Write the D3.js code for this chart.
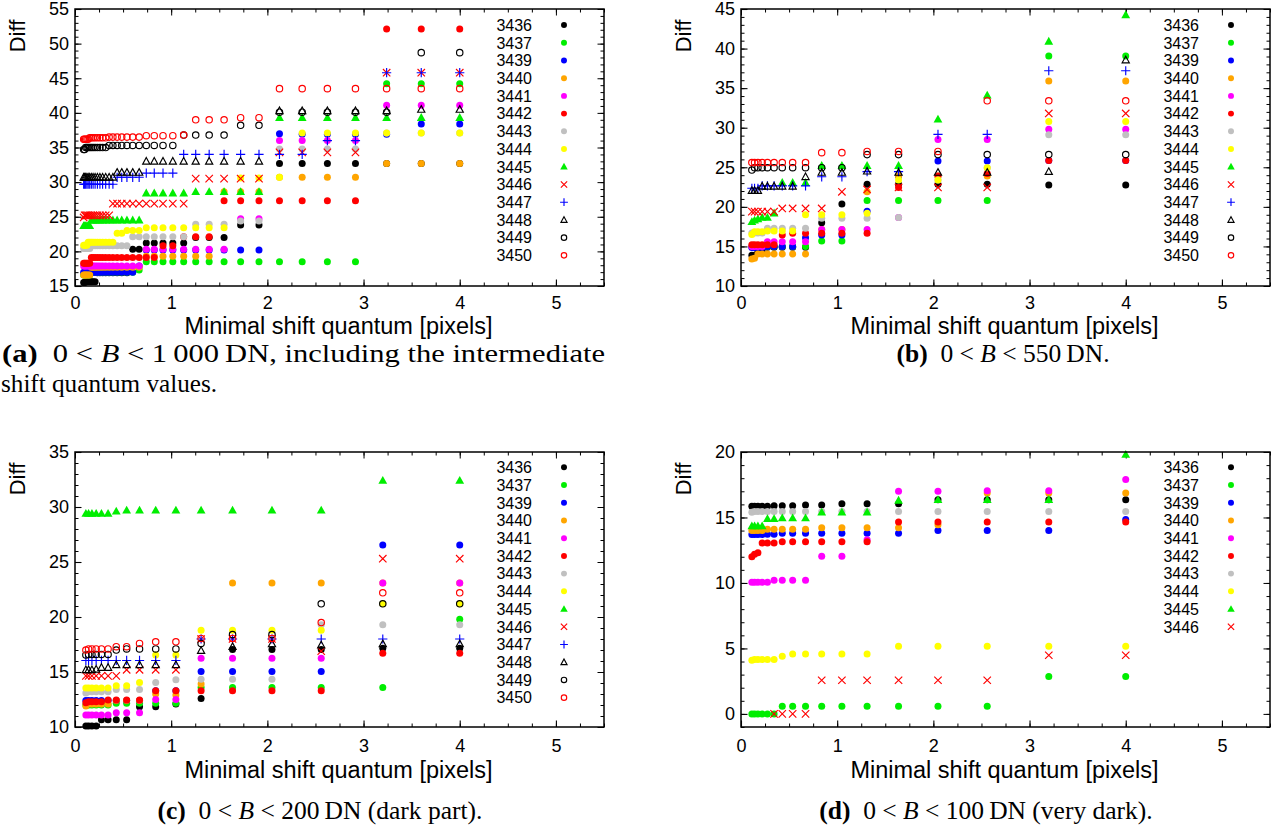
<!DOCTYPE html>
<html>
<head>
<meta charset="utf-8">
<script src="https://cdn.jsdelivr.net/npm/d3@7"></script>
<style>
  html, body { margin: 0; padding: 0; background: #ffffff; }
  svg { display: block; }
</style>
</head>
<body>
<svg id="fig" width="1277" height="837"></svg>
<script>
// ---------------------------------------------------------------
// Minimal shift quantum values [pixels]
// fine sweep (panel a) and coarse sweep (panels b, c, d)
// ---------------------------------------------------------------
const xFine = [0.090, 0.100, 0.111, 0.124, 0.137, 0.153, 0.170, 0.188, 0.209, 0.233,
               0.259, 0.287, 0.319, 0.355, 0.394, 0.438, 0.486, 0.540, 0.600, 0.667,
               0.741, 0.824, 0.915, 1.017, 1.130, 1.255, 1.395, 1.550, 1.722, 1.913,
               2.126, 2.362, 2.624, 2.916, 3.240, 3.600, 4.000];
const xCoarse = [0.113, 0.141, 0.176, 0.220, 0.275, 0.344, 0.429, 0.537, 0.671,
                 0.839, 1.049, 1.311, 1.638, 2.048, 2.560, 3.200, 4.000];

const runsAll  = ["3436","3437","3439","3440","3441","3442","3443","3444","3445","3446","3447","3448","3449","3450"];
const runsDark = ["3436","3437","3439","3440","3441","3442","3443","3444","3445","3446"];

const xTicks = [0, 1, 2, 3, 4, 5];
const yTicksA = [15, 20, 25, 30, 35, 40, 45, 50, 55];
const yTicksB = [10, 15, 20, 25, 30, 35, 40, 45];
const yTicksC = [10, 15, 20, 25, 30, 35];
const yTicksD = [0, 5, 10, 15, 20];

// ---------------- (a) 0 < B < 1000 DN, fine sweep ----------------
const a3436 = [15.5,15.5,15.6,15.6,15.6,15.6,15.6,15.6,15.6,
               16.9,16.9,16.9,16.9,16.9,16.9,16.9,16.9,16.9,
               20.3,20.3,21.2,21.2,21.2,21.2,21.2,22.0,22.0,22.0,23.8,23.8,
               32.7,32.7,32.7,32.7,32.7,32.7,32.7];
const a3437 = [16.6,16.6,16.6,16.6,16.6,16.6,
               17.0,17.0,17.0,17.0,17.0,17.0,17.0,17.0,17.0,17.0,17.0,17.0,17.0,
               17.3,
               18.5,18.5,18.5,18.5,18.5,18.5,18.5,18.5,18.5,18.5,18.5,18.5,18.5,18.5,
               44.2,44.2,44.2];
const a3439 = [17.0,17.0,17.0,17.0,17.0,17.0,17.0,17.0,17.0,17.0,
               17.0,17.0,17.0,17.0,17.0,17.0,17.0,17.0,17.0,
               17.9,
               20.2,20.2,20.2,20.2,20.2,20.2,20.2,20.2,20.2,20.2,
               37.0,36.9,36.9,36.9,36.9,
               38.4,38.4];
const a3440 = [16.6,16.6,16.6,16.6,16.6,16.6,
               17.7,17.7,17.7,17.7,17.7,17.7,17.7,17.7,17.7,17.7,17.7,17.7,17.7,17.7,
               19.3,19.3,19.3,19.3,19.3,19.3,19.3,
               28.6,28.6,28.6,
               30.7,30.7,30.7,30.7,
               32.7,32.7,32.7];
const a3441 = [17.9,17.9,17.9,17.9,17.9,17.9,17.9,17.9,17.9,17.9,
               17.9,17.9,17.9,17.9,17.9,17.9,17.9,17.9,17.9,17.9,
               20.3,20.3,20.3,20.3,20.3,20.3,20.3,20.3,
               24.7,24.7,
               36.0,36.0,36.0,36.0,
               41.1,41.1,41.1];
const a3442 = [18.3,18.3,18.3,18.3,18.3,18.3,
               19.1,19.1,19.1,19.1,19.1,19.1,19.1,19.1,19.1,19.1,19.1,19.1,19.1,19.1,19.1,19.1,
               20.8,20.8,
               22.1,22.1,22.1,
               27.3,27.3,27.3,27.3,27.3,27.3,27.3,
               52.1,52.1,52.1];
const a3443 = [20.4,20.4,20.4,20.4,20.4,20.4,
               20.8,20.8,20.8,20.8,20.8,20.8,20.8,20.8,20.8,20.8,20.8,20.8,
               22.1,22.1,22.1,22.1,22.1,22.1,22.1,
               23.9,23.9,23.9,
               24.4,24.4,
               34.8,34.8,34.8,34.8,
               37.1,37.1,37.1];
const a3444 = [20.9,20.9,20.9,20.9,
               21.3,21.3,21.3,21.3,21.3,21.3,21.3,21.3,21.3,21.3,21.3,
               22.6,22.6,
               23.0,23.0,23.0,
               23.4,23.4,23.4,23.4,23.4,23.4,23.4,23.4,
               30.6,30.6,30.7,
               37.1,37.1,37.1,37.1,37.1,37.1];
const a3445 = [23.7,23.7,23.7,23.7,23.7,23.7,
               24.5,24.5,24.5,24.5,24.5,24.5,24.5,24.5,24.5,24.5,24.5,24.5,24.5,24.5,
               28.4,28.4,28.4,28.4,28.4,
               28.6,28.6,28.6,28.6,28.6,
               39.3,39.3,39.3,39.3,39.3,39.3,39.3];
const a3446 = [24.9,
               25.2,25.2,25.2,25.2,25.2,25.2,25.2,25.2,25.2,25.2,25.2,25.2,25.2,
               26.9,26.9,26.9,26.9,26.9,26.9,26.9,26.9,26.9,26.9,26.9,
               30.5,30.5,30.5,30.5,30.5,
               34.3,34.3,34.3,34.3,
               45.8,45.8,45.8];
const a3447 = [29.7,29.7,29.7,29.7,29.7,29.7,29.7,29.7,29.7,29.7,29.7,29.7,29.7,29.7,29.7,
               30.7,30.7,30.7,30.7,30.7,
               31.3,31.3,31.3,31.3,
               34.0,34.0,34.0,34.0,34.0,34.0,34.0,34.0,
               36.0,36.0,
               45.8,45.8,45.8];
const a3448 = [30.7,30.7,30.7,30.7,30.7,30.7,30.7,30.7,30.7,30.7,30.7,30.7,30.7,30.7,30.7,
               31.4,31.4,31.4,31.4,31.4,
               33.0,33.0,33.0,33.0,33.0,33.0,33.0,33.0,33.0,33.0,
               40.3,40.3,40.3,40.3,40.3,
               40.5,40.5];
const a3449 = [34.7,34.7,
               35.0,35.0,35.0,35.0,35.0,35.0,35.0,35.0,35.0,35.0,35.0,
               35.3,35.3,35.3,35.3,35.3,35.3,35.3,35.3,35.3,35.3,35.3,
               36.8,36.8,36.8,36.8,
               38.2,38.2,
               40.1,40.1,40.1,40.1,40.1,
               48.7,48.7];
const a3450 = [36.2,36.2,36.2,36.2,36.2,
               36.4,36.4,36.4,36.4,36.4,36.4,36.4,36.4,
               36.5,36.5,36.5,36.5,36.5,36.5,36.5,
               36.7,36.7,36.7,36.7,
               36.8,
               39.0,39.0,39.0,
               39.3,39.3,
               43.5,43.5,43.5,43.5,43.5,43.5,43.5];

// ---------------- (b) 0 < B < 550 DN ----------------
const b3436 = [13.9,13.9,14.3,14.3,14.9,14.9,14.9,14.9,14.9,18.0,20.35,22.85,22.85,22.85,22.85,22.75,22.75];
const b3437 = [15.0,15.0,15.0,15.0,15.0,15.0,15.0,15.0,15.0,15.7,15.7,20.8,20.8,20.8,20.8,39.05,39.05];
const b3439 = [14.85,14.85,14.85,14.85,15.0,15.0,15.0,15.0,16.1,16.45,16.45,19.45,23.9,25.8,25.8,25.85,25.85];
const b3440 = [13.4,13.5,14.05,14.05,14.05,14.05,14.05,14.05,14.05,17.15,17.15,21.9,23.9,23.9,23.9,35.9,35.9];
const b3441 = [15.0,15.0,15.0,15.0,15.6,15.6,15.6,15.6,15.6,17.15,17.15,17.15,18.65,28.5,28.5,29.8,29.8];
const b3442 = [15.2,15.2,15.2,15.2,15.2,15.2,16.45,16.65,16.65,16.65,16.65,16.65,22.45,23.9,24.2,25.85,25.85];
const b3443 = [16.7,16.7,16.7,16.7,17.3,17.3,17.3,17.3,17.3,18.55,18.55,18.55,18.65,23.4,24.95,29.1,29.1];
const b3444 = [16.5,16.85,16.85,16.85,16.95,16.95,16.95,16.95,19.0,19.0,19.0,19.2,23.4,23.4,24.95,30.8,30.8];
const b3445 = [18.1,18.3,18.45,18.65,18.65,19.2,23.05,23.05,23.05,25.2,25.2,25.2,25.2,31.05,34.1,40.9,44.25];
const b3446 = [19.4,19.4,19.4,19.4,19.4,19.4,19.8,19.8,19.8,19.8,21.9,22.2,22.45,22.45,22.45,31.8,31.8];
const b3447 = [22.35,22.35,22.35,22.65,22.65,22.65,22.65,22.65,22.65,23.8,23.8,24.45,24.45,29.15,29.15,37.2,37.2];
const b3448 = [22.05,22.05,22.05,22.6,22.6,22.6,22.6,22.6,23.8,24.35,24.35,24.5,24.35,24.35,24.35,24.45,38.55];
const b3449 = [24.65,24.95,24.95,24.95,24.95,24.95,24.95,24.95,24.95,24.95,24.95,26.6,26.6,26.6,26.6,26.6,26.6];
const b3450 = [25.6,25.6,25.6,25.6,25.6,25.6,25.6,25.6,25.6,26.85,26.85,27.0,27.0,27.0,33.4,33.4,33.4];

// ---------------- (c) 0 < B < 200 DN ----------------
const c3436 = [10.1,10.1,10.1,10.1,10.65,10.65,10.65,10.65,11.85,11.85,12.1,12.6,17.05,17.05,17.05,17.15,17.15];
const c3437 = [12.0,12.0,12.0,12.0,12.0,12.0,12.15,12.15,12.15,12.15,12.15,13.6,13.6,13.6,13.6,13.6,19.8];
const c3439 = [12.4,12.4,12.4,12.4,12.4,12.4,12.4,12.4,12.4,13.3,13.3,15.05,15.05,15.05,15.05,26.55,26.55];
const c3440 = [11.9,12.1,12.1,12.1,12.1,12.1,12.4,12.4,12.4,13.0,12.9,13.9,23.1,23.1,23.1,23.1,23.1];
const c3441 = [11.1,11.1,11.1,11.1,11.1,11.1,11.3,11.3,11.3,12.5,12.5,16.25,16.25,16.25,16.25,23.1,23.1];
const c3442 = [12.2,12.3,12.3,12.3,12.3,12.45,12.45,12.45,12.45,13.3,13.3,13.3,13.3,13.3,13.3,16.7,16.7];
const c3443 = [13.1,13.2,13.2,13.2,13.2,13.2,13.4,13.4,13.4,14.05,14.3,14.35,14.35,14.35,19.3,19.3,19.3];
const c3444 = [13.55,13.55,13.55,13.55,13.55,13.55,13.75,13.75,14.05,16.55,16.55,18.8,18.8,18.8,18.8,21.2,21.2];
const c3445 = [29.4,29.4,29.4,29.4,29.4,29.4,29.6,29.7,29.7,29.7,29.7,29.7,29.7,29.7,29.7,32.4,32.4];
const c3446 = [14.65,14.65,14.65,14.65,14.65,14.65,14.65,15.2,15.2,15.2,15.2,18.0,18.0,18.0,16.9,25.3,25.3];
const c3447 = [16.05,16.05,16.05,16.05,16.05,16.05,16.05,16.05,16.05,16.05,16.05,18.0,18.0,18.0,18.0,18.0,18.0];
const c3448 = [15.2,15.2,15.2,15.25,15.4,15.4,15.65,15.65,15.65,15.65,15.65,16.95,17.3,17.55,17.45,17.55,17.55];
const c3449 = [16.55,16.6,16.6,16.6,16.6,16.6,17.0,17.1,17.1,17.1,17.1,17.6,18.4,18.4,21.2,21.2,21.2];
const c3450 = [17.0,17.1,17.1,17.1,17.1,17.1,17.3,17.3,17.6,17.75,17.75,18.05,18.05,18.05,19.5,22.2,22.2];

// ---------------- (d) 0 < B < 100 DN ----------------
const d3436 = [15.85,15.85,15.85,15.85,15.85,15.9,15.9,15.9,15.95,15.95,16.05,16.05,16.05,16.35,16.35,16.35,16.35];
const d3437 = [0.0,0.0,0.0,0.0,0.0,0.0,0.58,0.58,0.58,0.58,0.58,0.58,0.58,0.58,0.58,2.85,2.85];
const d3439 = [13.7,13.7,13.7,13.7,13.72,13.72,13.8,13.8,13.8,13.8,13.8,13.8,13.8,14.0,14.0,14.0,14.85];
const d3440 = [14.0,14.0,14.0,14.0,14.1,14.1,14.1,14.1,14.1,14.22,14.22,14.22,14.22,14.45,16.87,16.87,16.87];
const d3441 = [10.05,10.05,10.05,10.05,10.05,10.2,10.2,10.2,10.2,12.03,12.03,13.3,17.0,17.0,17.05,17.05,17.9];
const d3442 = [12.0,12.2,12.3,13.05,13.05,13.05,13.15,13.15,13.15,13.15,13.15,13.15,14.65,14.65,14.65,14.65,14.65];
const d3443 = [15.4,15.45,15.45,15.45,15.45,15.45,15.45,15.45,15.45,15.45,15.45,15.45,15.45,15.45,15.45,15.45,15.45];
const d3444 = [4.1,4.15,4.15,4.15,4.15,4.15,4.4,4.58,4.58,4.58,4.58,4.58,5.17,5.17,5.17,5.17,5.17];
const d3445 = [14.35,14.35,14.35,14.35,14.9,14.9,14.95,14.95,14.95,15.4,15.4,15.4,16.3,16.35,16.35,16.35,19.8];
const d3446 = [null,null,null,null,null,0.0,0.0,0.0,0.0,2.57,2.57,2.57,2.57,2.57,2.57,4.48,4.48];

// ---------------------------------------------------------------
// marker style per run
// ---------------------------------------------------------------
const runStyle = {
  "3436": { shape: "dot",     color: "#000000" },
  "3437": { shape: "dot",     color: "#00ee00" },
  "3439": { shape: "dot",     color: "#0000ff" },
  "3440": { shape: "dot",     color: "#ffa500" },
  "3441": { shape: "dot",     color: "#ff00ff" },
  "3442": { shape: "dot",     color: "#ff0000" },
  "3443": { shape: "dot",     color: "#c0c0c0" },
  "3444": { shape: "dot",     color: "#ffff00" },
  "3445": { shape: "triFill", color: "#00ee00" },
  "3446": { shape: "cross",   color: "#ff0000" },
  "3447": { shape: "plus",    color: "#0000ff" },
  "3448": { shape: "triOpen", color: "#000000" },
  "3449": { shape: "ring",    color: "#000000" },
  "3450": { shape: "ring",    color: "#ff0000" }
};

function markPath(shape, cx, cy, k) {
  switch (shape) {
    case "triFill": return `M${cx},${cy - 4.6 * k}L${cx + 4.4 * k},${cy + 3.2 * k}L${cx - 4.4 * k},${cy + 3.2 * k}Z`;
    case "triOpen": return `M${cx},${cy - 3.8 * k}L${cx + 3.6 * k},${cy + 2.8 * k}L${cx - 3.6 * k},${cy + 2.8 * k}Z`;
    case "cross":   return `M${cx - 3.7 * k},${cy - 3.7 * k}L${cx + 3.7 * k},${cy + 3.7 * k}M${cx - 3.7 * k},${cy + 3.7 * k}L${cx + 3.7 * k},${cy - 3.7 * k}`;
    case "plus":    return `M${cx - 4.6 * k},${cy}L${cx + 4.6 * k},${cy}M${cx},${cy - 4.6 * k}L${cx},${cy + 4.6 * k}`;
  }
  return "";
}

function drawMarks(g, shape, color, pts, k = 1) {
  if (shape === "dot" || shape === "ring") {
    g.selectAll(null).data(pts).join("circle")
      .attr("cx", d => d[0]).attr("cy", d => d[1])
      .attr("r", (shape === "dot" ? 3.5 : 3.2) * k)
      .attr("fill", shape === "dot" ? color : "none")
      .attr("stroke", shape === "dot" ? "none" : color)
      .attr("stroke-width", 1.15);
  } else {
    g.selectAll(null).data(pts).join("path")
      .attr("d", d => markPath(shape, d[0], d[1], k))
      .attr("fill", shape === "triFill" ? color : "none")
      .attr("stroke", shape === "triFill" ? "none" : color)
      .attr("stroke-width", 1.15)
      .attr("stroke-linejoin", "miter");
  }
}

// ---------------------------------------------------------------
// panel assembly
// ---------------------------------------------------------------
const svg = d3.select("#fig");
svg.append("rect").attr("width", 1277).attr("height", 837).attr("fill", "#ffffff");

const sansFont = "'Liberation Sans', Arial, Helvetica, sans-serif";
const serifFont = "'Liberation Serif', 'Times New Roman', serif";

function drawPanel(p) {
  const g = svg.append("g");
  const x = d3.scaleLinear().domain([0, 5.5]).range([p.left, p.right]);
  const y = d3.scaleLinear().domain(p.yDomain).range([p.bottom, p.top]);

  const xMinor = d3.range(0, 5.5001, 0.25);
  const yMinor = d3.range(Math.ceil(p.yDomain[0]), p.yDomain[1] + 0.001, 1);

  // minor ticks (all four sides, pointing inward)
  const tickStyle = s => s.call(a => a.select(".domain").remove())
                          .call(a => a.selectAll("line").attr("stroke", "#000").attr("stroke-width", 1))
                          .call(a => a.selectAll("text").remove());
  g.append("g").attr("transform", `translate(0,${p.bottom})`)
    .call(d3.axisBottom(x).tickValues(xMinor).tickSize(-3.5)).call(tickStyle);
  g.append("g").attr("transform", `translate(0,${p.top})`)
    .call(d3.axisTop(x).tickValues(xMinor).tickSize(-3.5)).call(tickStyle);
  g.append("g").attr("transform", `translate(${p.left},0)`)
    .call(d3.axisLeft(y).tickValues(yMinor).tickSize(-3.5)).call(tickStyle);
  g.append("g").attr("transform", `translate(${p.right},0)`)
    .call(d3.axisRight(y).tickValues(yMinor).tickSize(-3.5)).call(tickStyle);

  // major ticks with labels
  const labelStyle = s => s.call(a => a.select(".domain").remove())
                           .call(a => a.selectAll("line").attr("stroke", "#000").attr("stroke-width", 1.1))
                           .call(a => a.selectAll("text").attr("fill", "#000")
                                         .style("font-family", sansFont).style("font-size", "18px"));
  g.append("g").attr("transform", `translate(0,${p.bottom})`)
    .call(d3.axisBottom(x).tickValues(xTicks).tickSize(-6.5).tickPadding(p.xPad).tickFormat(d3.format("d")))
    .call(labelStyle);
  g.append("g").attr("transform", `translate(0,${p.top})`)
    .call(d3.axisTop(x).tickValues(xTicks).tickSize(-6.5).tickFormat(""))
    .call(tickStyle);
  g.append("g").attr("transform", `translate(${p.left},0)`)
    .call(d3.axisLeft(y).tickValues(p.yTicks).tickSize(-6.5).tickPadding(6).tickFormat(d3.format("d")))
    .call(labelStyle);
  g.append("g").attr("transform", `translate(${p.right},0)`)
    .call(d3.axisRight(y).tickValues(p.yTicks).tickSize(-6.5).tickFormat(""))
    .call(tickStyle);

  // data
  const plot = g.append("g");
  p.series.forEach(([id, vals]) => {
    const st = runStyle[id];
    const pts = [];
    vals.forEach((v, i) => { if (v !== null) pts.push([x(p.xs[i]), y(v)]); });
    drawMarks(plot.append("g"), st.shape, st.color, pts);
  });

  // key
  const key = g.append("g");
  p.series.forEach(([id], i) => {
    const cy = p.keyTop + i * 17.72;
    key.append("text").attr("x", p.keyText).attr("y", cy + 5.8)
      .attr("text-anchor", "end")
      .style("font-family", sansFont).style("font-size", "16px").attr("fill", "#000")
      .text(id);
    drawMarks(key.append("g"), runStyle[id].shape, runStyle[id].color, [[p.keySym, cy]], 0.85);
  });

  // frame
  g.append("rect").attr("x", p.left).attr("y", p.top)
    .attr("width", p.right - p.left).attr("height", p.bottom - p.top)
    .attr("fill", "none").attr("stroke", "#000").attr("stroke-width", 1.5);

  // axis titles
  g.append("text").attr("x", (p.left + p.right) / 2 - 1).attr("y", p.bottom + p.titleGap)
    .attr("text-anchor", "middle")
    .style("font-family", sansFont).style("font-size", "23.5px").attr("fill", "#000")
    .text("Minimal shift quantum [pixels]");
  g.append("text")
    .attr("transform", `translate(${p.left - 50},${p.top + 27}) rotate(-90)`)
    .attr("text-anchor", "middle")
    .style("font-family", sansFont).style("font-size", "22px").attr("fill", "#000")
    .text("Diff");
}

const panels = [
  { left: 75,  right: 604,  top: 9,   bottom: 286, yDomain: [15, 55], yTicks: yTicksA, xs: xFine,
    xPad: 10, titleGap: 48, keyTop: 25, keyText: 532, keySym: 564,
    series: [["3436",a3436],["3437",a3437],["3439",a3439],["3440",a3440],["3441",a3441],["3442",a3442],["3443",a3443],
             ["3444",a3444],["3445",a3445],["3446",a3446],["3447",a3447],["3448",a3448],["3449",a3449],["3450",a3450]] },
  { left: 741, right: 1270, top: 9,   bottom: 286, yDomain: [10, 45], yTicks: yTicksB, xs: xCoarse,
    xPad: 10, titleGap: 48, keyTop: 25, keyText: 1199, keySym: 1231,
    series: [["3436",b3436],["3437",b3437],["3439",b3439],["3440",b3440],["3441",b3441],["3442",b3442],["3443",b3443],
             ["3444",b3444],["3445",b3445],["3446",b3446],["3447",b3447],["3448",b3448],["3449",b3449],["3450",b3450]] },
  { left: 75,  right: 604,  top: 452, bottom: 727, yDomain: [10, 35], yTicks: yTicksC, xs: xCoarse,
    xPad: 12, titleGap: 51, keyTop: 467.3, keyText: 532, keySym: 564,
    series: [["3436",c3436],["3437",c3437],["3439",c3439],["3440",c3440],["3441",c3441],["3442",c3442],["3443",c3443],
             ["3444",c3444],["3445",c3445],["3446",c3446],["3447",c3447],["3448",c3448],["3449",c3449],["3450",c3450]] },
  { left: 741, right: 1270, top: 452, bottom: 727, yDomain: [-1, 20], yTicks: yTicksD, xs: xCoarse,
    xPad: 12, titleGap: 51, keyTop: 467.3, keyText: 1199, keySym: 1231,
    series: [["3436",d3436],["3437",d3437],["3439",d3439],["3440",d3440],["3441",d3441],["3442",d3442],["3443",d3443],
             ["3444",d3444],["3445",d3445],["3446",d3446]] }
];
panels.forEach(drawPanel);

// ---------------------------------------------------------------
// sub-figure captions
// ---------------------------------------------------------------
const capSize = "25.5px";
function caption(xPos, yBase, anchor, letter, rest, tail, fitWidth) {
  const t = svg.append("text").attr("x", xPos).attr("y", yBase)
    .attr("text-anchor", anchor)
    .style("font-family", serifFont).style("font-size", capSize).attr("fill", "#000");
  if (fitWidth) t.attr("textLength", fitWidth).attr("lengthAdjust", "spacingAndGlyphs");
  t.append("tspan").style("font-weight", "bold").text(`(${letter})`);
  t.append("tspan").text("\u00a0 0 < ");
  t.append("tspan").style("font-style", "italic").text("B");
  t.append("tspan").text(` < ${rest}\u2009DN${tail}`);
}
caption(2, 362, "start", "a", "1\u2009000", ", including the intermediate", 603);
svg.append("text").attr("x", 1).attr("y", 392)
  .style("font-family", serifFont).style("font-size", capSize).attr("fill", "#000")
  .attr("textLength", 216).attr("lengthAdjust", "spacingAndGlyphs")
  .text("shift quantum values.");
caption(1003, 362, "middle", "b", "550", ".");
caption(320, 819, "middle", "c", "200", " (dark part).");
caption(986, 819, "middle", "d", "100", " (very dark).");
</script>
</body>
</html>
